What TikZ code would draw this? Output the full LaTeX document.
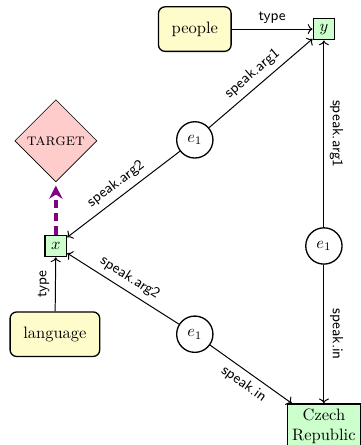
\documentclass[tikz,border=0pt]{standalone}
\usepackage{amsmath,amssymb}
\usepackage{tikz}
\usetikzlibrary{shapes.geometric,arrows.meta}

\definecolor{goalpurple}{RGB}{128,0,128}

\begin{document}
\begin{tikzpicture}[
        concept/.style = {draw, thick, rounded corners=4pt, fill=yellow!20, minimum height=27pt, inner xsep=8pt},
        entity/.style = {draw, thick, fill=green!20, minimum size=13pt, inner sep=1pt},
        event/.style = {draw, circle, thick, minimum size=22pt, inner sep=0pt},
        goal/.style = {draw, diamond, aspect=1, fill=red!20, minimum size=1.75cm, inner sep=0pt},
        rel/.style = {semithick, ->},
        lbl/.style = {font=\sffamily\small, sloped},
        vlbl/.style = {font=\sffamily\small, anchor=south},
        query/.style = {goalpurple, line width=2pt, dash pattern=on 5pt off 3pt, -{Stealth[length=8pt,width=8pt]}, shorten >=2pt}
        ]
        \useasboundingbox (0,0) rectangle (7.69,9.48);

        \node[concept] (people) at (4.15,8.86) {people};
        \node[concept] (language) at (1.17,2.36) {language};
        \node[entity] (y) at (6.90,8.86) {$y$};
        \node[entity] (x) at (1.19,4.24) {$x$};
        \node[entity, align=center, inner sep=3pt] (czech) at (6.90,0.40) {Czech\\Republic};
        \node[goal] (target) at (1.19,6.48) {\textsc{target}};

        \node[event] (ev1) at (4.15,6.50) {$e_1$};
        \node[event] (ev2) at (6.90,4.24) {$e_1$};
        \node[event] (ev3) at (4.15,2.36) {$e_1$};

        \draw[rel] (people) -- node[lbl, above] {type} (y);
        \draw[rel] (language) -- node[vlbl, rotate=90] {type} (x);

        \draw[rel] (ev1) -- node[lbl, above] {speak.arg1} (y);
        \draw[rel] (ev1) -- node[lbl, above] {speak.arg2} (x);

        \draw[rel] (ev2) -- node[vlbl, rotate=-90] {speak.arg1} (y);
        \draw[rel] (ev2) -- node[vlbl, rotate=-90] {speak.in} (czech);

        \draw[rel] (ev3) -- node[lbl, above] {speak.arg2} (x);
        \draw[rel] (ev3) -- node[lbl, below] {speak.in} (czech);

        \draw[query] (x) -- (target);

    \end{tikzpicture}
\end{document}
